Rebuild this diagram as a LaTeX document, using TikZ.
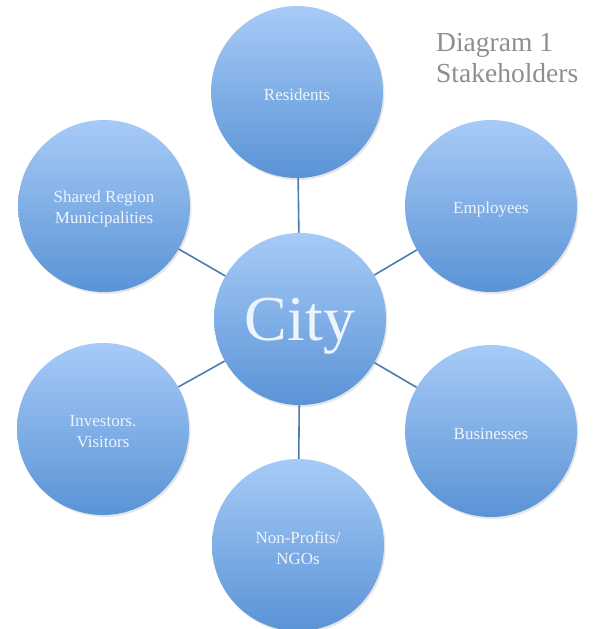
\documentclass[tikz,border=0pt]{standalone}
\usepackage{fontspec}
\setmainfont{Liberation Serif}
\usetikzlibrary{shadows}
\definecolor{topblue}{HTML}{A7CBF7}
\definecolor{botblue}{HTML}{5A93D6}
\definecolor{linkblue}{HTML}{4E7BAD}
\definecolor{txtwhite}{HTML}{EEF4FC}
\definecolor{titlegray}{HTML}{8E8E8E}
\begin{document}
\begin{tikzpicture}[x=1pt,y=-1pt,
  bubble/.style={circle, minimum size=172pt, inner sep=0pt,
    top color=topblue, bottom color=botblue, draw=none,
    drop shadow={shadow xshift=1.5pt, shadow yshift=-2pt, opacity=0.2}},
  lbl/.style={text=txtwhite, font=\fontsize{17}{21}\selectfont, align=center, yshift=-3pt},
  biglbl/.style={text=txtwhite, font=\fontsize{64}{70}\selectfont, yshift=-7pt},
  link/.style={draw=linkblue, line width=1.6pt}]
\useasboundingbox (0,0) rectangle (601,629);
\node[bubble, label={[biglbl]center:City}] (city) at (300,319) {};
\node[bubble, label={[lbl]center:Residents}] (res) at (297,92) {};
\node[bubble, label={[lbl]center:Employees}] (emp) at (491,206) {};
\node[bubble, label={[lbl]center:Businesses}] (bus) at (491,431) {};
\node[bubble, label={[lbl]center:{Non-Profits/\\NGOs}}] (npo) at (298,545) {};
\node[bubble, label={[lbl]center:{Investors.\\Visitors}}] (inv) at (103,429) {};
\node[bubble, label={[lbl]center:{Shared Region\\Municipalities}}] (shr) at (104,206) {};
\foreach \n in {res,emp,bus,npo,inv,shr} \draw[link] (city) -- (\n);
\node[text=titlegray, font=\fontsize{27.5}{31}\selectfont, align=left, anchor=north west, inner sep=0pt] (title) at (436,33) {Diagram 1\\Stakeholders};
\end{tikzpicture}
\end{document}
